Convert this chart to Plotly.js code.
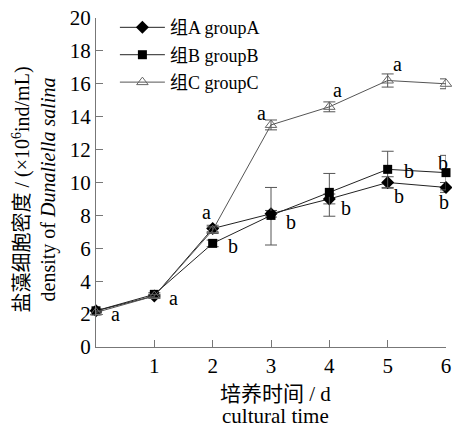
<!DOCTYPE html>
<html>
<head>
<meta charset="utf-8">
<script src="https://cdn.plot.ly/plotly-3.0.1.min.js"></script>
<style>html,body{margin:0;padding:0;background:#fff;}#chart{width:452px;height:430px;}</style>
</head>
<body>
<div id="chart"></div>
<script>
const days = [0, 1, 2, 3, 4, 5, 6];
const groupA = [2.2, 3.1, 7.2, 8.1, 9.0, 10.0, 9.7];
const groupB = [2.2, 3.2, 6.3, 8.0, 9.4, 10.8, 10.6];
const groupC = [2.1, 3.1, 7.1, 13.5, 14.6, 16.2, 16.0];
const errA = [0.1, 0.1, 0.2, 0.2, 0.3, 0.35, 0.3];
const errBplus = [0.1, 0.1, 0.2, 1.7, 1.15, 1.1, 1.05];
const errBminus = [0.1, 0.1, 0.2, 1.8, 1.45, 1.1, 1.05];
const errC = [0.1, 0.1, 0.2, 0.3, 0.3, 0.4, 0.3];
const seriesNames = ['组A groupA', '组B groupB', '组C groupC'];
const xTitleLines = ['培养时间 / d', 'cultural time'];
const yTitle = '盐藻细胞密度 / (×10<sup>6</sup>ind/mL)<br>density of <i>Dunaliella salina</i>';

const sigText = ['a', 'a', 'a', 'b', 'a', 'b', 'a', 'b', 'a', 'b', 'b', 'a', 'b', 'b'];
const sigX = [0.34, 1.33, 1.89, 2.35, 2.84, 3.34, 4.14, 4.28, 5.16, 5.36, 5.19, 6.01, 5.94, 5.96];
const sigY = [2.0, 2.96, 8.2, 6.14, 14.24, 7.6, 15.6, 8.43, 17.2, 10.7, 9.2, 16.8, 11.2, 8.8];

const FONT = 'Liberation Serif, "Times New Roman", "Noto Sans CJK SC", serif';
const errStyle = {color: '#555', thickness: 1, width: 6};

const traces = [
  {x: days, y: groupA, name: seriesNames[0], type: 'scatter', mode: 'lines+markers', cliponaxis: false,
   legendgroup: 'a',
   line: {color: '#222', width: 1}, marker: {symbol: 'diamond', size: 10, color: '#000'},
   error_y: Object.assign({type: 'data', array: errA, visible: true}, errStyle)},
  {x: days, y: groupB, name: seriesNames[1], type: 'scatter', mode: 'lines+markers', cliponaxis: false,
   legendgroup: 'b',
   line: {color: '#222', width: 1}, marker: {symbol: 'square', size: 9, color: '#000'},
   error_y: Object.assign({type: 'data', array: errBplus, arrayminus: errBminus, symmetric: false, visible: true}, errStyle)},
  {x: days, y: groupC, name: seriesNames[2], type: 'scatter', mode: 'lines+markers', cliponaxis: false,
   legendgroup: 'c',
   line: {color: '#555', width: 1}, marker: {symbol: 'triangle-up-open', size: 10, color: '#666', line: {width: 1, color: '#666'}},
   error_y: Object.assign({type: 'data', array: errC, visible: true}, errStyle)}
];

const annotations = sigText.map((t, i) => ({
  x: sigX[i], y: sigY[i], xref: 'x', yref: 'y', text: t, showarrow: false,
  font: {family: FONT, size: 20, color: '#000'}
}));
const xTitleShift = [-47, -69];
xTitleLines.forEach((t, i) => annotations.push({
  xref: 'paper', yref: 'paper', x: 0.5, y: 0, xanchor: 'center', yanchor: 'middle',
  xshift: 4, yshift: xTitleShift[i], text: t, showarrow: false, borderpad: 0,
  font: {family: FONT, size: 21, color: '#000'}
}));
annotations.push({
  xref: 'paper', yref: 'paper', x: 0, y: 0.5, xanchor: 'center', yanchor: 'middle',
  xshift: -62, yshift: -7, textangle: -90, text: yTitle, showarrow: false,
  font: {family: FONT, size: 20, color: '#000'}
});

const layout = {
  width: 452, height: 430,
  margin: {l: 96, r: 6, t: 18, b: 83},
  paper_bgcolor: '#fff', plot_bgcolor: '#fff',
  font: {family: FONT, size: 20, color: '#000'},
  showlegend: true,
  legend: {x: 0.054, y: 1.027, xanchor: 'left', yanchor: 'top', bgcolor: 'rgba(0,0,0,0)',
           font: {family: FONT, size: 18}, tracegroupgap: 1, itemwidth: 45},
  xaxis: {
    range: [0, 6], tickvals: [1, 2, 3, 4, 5, 6], ticks: 'inside', ticklen: 7, tickcolor: '#777',
    showline: true, linecolor: '#777', linewidth: 1, showgrid: false, zeroline: false,
    tickfont: {family: FONT, size: 21}
  },
  yaxis: {
    range: [0, 20], dtick: 2, ticks: 'inside', ticklen: 7, tickcolor: '#777',
    showline: true, linecolor: '#777', linewidth: 1, showgrid: false, zeroline: false,
    tickfont: {family: FONT, size: 21}
  },
  annotations: annotations
};

Plotly.newPlot('chart', traces, layout, {displayModeBar: false, responsive: false});
</script>
</body>
</html>
